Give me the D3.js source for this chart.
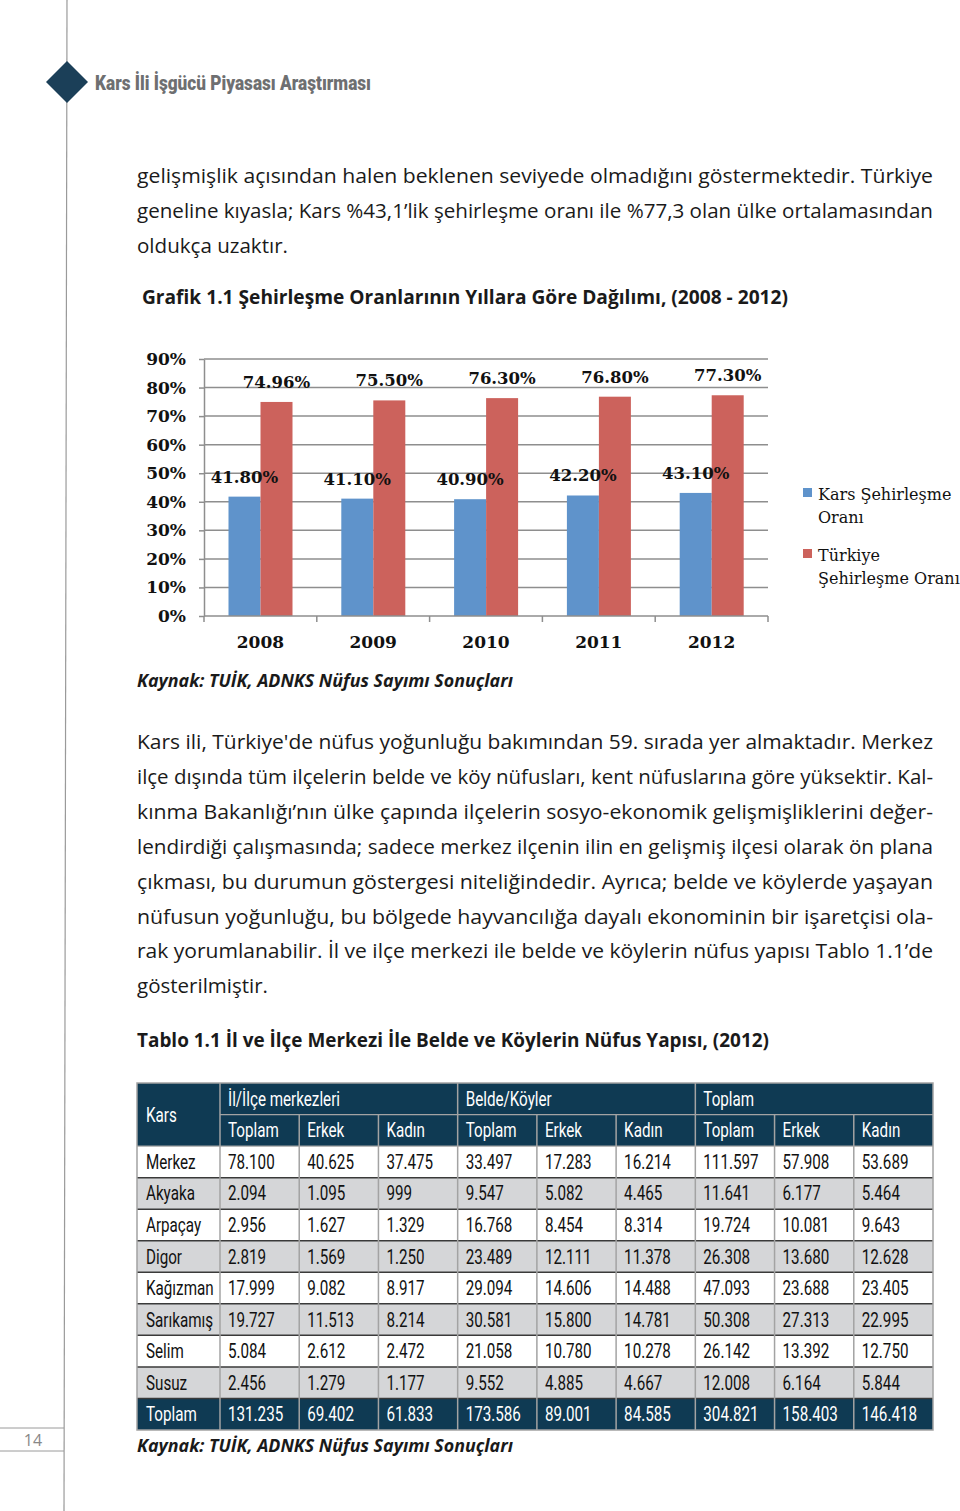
<!DOCTYPE html>
<html>
<head>
<meta charset="utf-8">
<script src="https://cdn.jsdelivr.net/npm/d3@7"></script>
<style>
body { margin: 0; background: #fff; }
svg { display: block; }
</style>
</head>
<body>
<script>
// chart data
var years = ["2008", "2009", "2010", "2011", "2012"];
var seriesNames = ["Kars Şehirleşme Oranı", "Türkiye Şehirleşme Oranı"];
var karsRate = [41.80, 41.10, 40.90, 42.20, 43.10];
var turkeyRate = [74.96, 75.50, 76.30, 76.80, 77.30];
var yTicks = [0, 10, 20, 30, 40, 50, 60, 70, 80, 90];

// table data
var groupHeads = ["İl/İlçe merkezleri", "Belde/Köyler", "Toplam"];
var subHeads = ["Toplam", "Erkek", "Kadın"];
var districts = ["Merkez", "Akyaka", "Arpaçay", "Digor", "Kağızman", "Sarıkamış", "Selim", "Susuz", "Toplam"];
var centerTotal = ["78.100", "2.094", "2.956", "2.819", "17.999", "19.727", "5.084", "2.456", "131.235"];
var centerMale = ["40.625", "1.095", "1.627", "1.569", "9.082", "11.513", "2.612", "1.279", "69.402"];
var centerFemale = ["37.475", "999", "1.329", "1.250", "8.917", "8.214", "2.472", "1.177", "61.833"];
var villageTotal = ["33.497", "9.547", "16.768", "23.489", "29.094", "30.581", "21.058", "9.552", "173.586"];
var villageMale = ["17.283", "5.082", "8.454", "12.111", "14.606", "15.800", "10.780", "4.885", "89.001"];
var villageFemale = ["16.214", "4.465", "8.314", "11.378", "14.488", "14.781", "10.278", "4.667", "84.585"];
var allTotal = ["111.597", "11.641", "19.724", "26.308", "47.093", "50.308", "26.142", "12.008", "304.821"];
var allMale = ["57.908", "6.177", "10.081", "13.680", "23.688", "27.313", "13.392", "6.164", "158.403"];
var allFemale = ["53.689", "5.464", "9.643", "12.628", "23.405", "22.995", "12.750", "5.844", "146.418"];

var width = 960, height = 1511;
var navy = "#0f3a53";
var blue = "#5f93cb", red = "#cc625c";

var svg = d3.select("body").append("svg")
    .attr("width", width)
    .attr("height", height);

// ---- page decoration
svg.append("line")
    .attr("x1", 67).attr("y1", 0).attr("x2", 64).attr("y2", height)
    .attr("stroke", "#9a9a9a").attr("stroke-width", 1.2);

svg.append("path")
    .attr("d", "M67,61 L88,82 L67,103 L46,82 Z")
    .attr("fill", "#1b3f58");

svg.append("text")
    .attr("x", 95).attr("y", 90)
    .attr("textLength", 276).attr("lengthAdjust", "spacingAndGlyphs")
    .style("font-family", "'Roboto', sans-serif")
    .style("font-weight", "900")
    .style("font-size", "21px")
    .attr("fill", "#6e6f71")
    .text("Kars İli İşgücü Piyasası Araştırması");

// page number box
[1428, 1451].forEach(function(yy) {
  svg.append("line").attr("x1", 0).attr("x2", 64).attr("y1", yy).attr("y2", yy)
      .attr("stroke", "#9a9a9a").attr("stroke-width", 1);
});
svg.append("text")
    .attr("x", 33).attr("y", 1446)
    .attr("text-anchor", "middle")
    .style("font-family", "'Open Sans', sans-serif")
    .style("font-size", "16px")
    .attr("fill", "#888")
    .text("14");

// ---- body text
function textLine(str, x, y, len, opts) {
  opts = opts || {};
  var t = svg.append("text")
      .attr("x", x).attr("y", y)
      .style("font-family", opts.family || "'Open Sans', sans-serif")
      .style("font-size", (opts.size || 19.5) + "px")
      .style("font-weight", opts.weight || "normal")
      .style("font-style", opts.style || "normal")
      .attr("fill", opts.fill || "#1a1a1a")
      .text(str);
  if (len) t.attr("textLength", len).attr("lengthAdjust", "spacingAndGlyphs");
  return t;
}

var para1 = [
  ["gelişmişlik açısından halen beklenen seviyede olmadığını göstermektedir. Türkiye", 796],
  ["geneline kıyasla; Kars %43,1’lik şehirleşme oranı ile %77,3 olan ülke ortalamasından", 796],
  ["oldukça uzaktır.", 151]
];
para1.forEach(function(l, i) { textLine(l[0], 137, 183 + i * 35, l[1]); });

textLine("Grafik 1.1 Şehirleşme Oranlarının Yıllara Göre Dağılımı, (2008 - 2012)", 142, 304, 646,
  {weight: "bold", size: 19});

textLine("Kaynak: TUİK, ADNKS Nüfus Sayımı Sonuçları", 137, 687, 376,
  {weight: "bold", style: "italic", size: 17});

var para2 = [
  ["Kars ili, Türkiye'de nüfus yoğunluğu bakımından 59. sırada yer almaktadır. Merkez", 796],
  ["ilçe dışında tüm ilçelerin belde ve köy nüfusları, kent nüfuslarına göre yüksektir. Kal-", 796],
  ["kınma Bakanlığı’nın ülke çapında ilçelerin sosyo-ekonomik gelişmişliklerini değer-", 796],
  ["lendirdiği çalışmasında; sadece merkez ilçenin ilin en gelişmiş ilçesi olarak ön plana", 796],
  ["çıkması, bu durumun göstergesi niteliğindedir.  Ayrıca; belde ve köylerde yaşayan", 796],
  ["nüfusun yoğunluğu, bu bölgede hayvancılığa dayalı ekonominin bir işaretçisi ola-", 796],
  ["rak yorumlanabilir. İl ve ilçe merkezi ile belde ve köylerin nüfus yapısı Tablo 1.1’de", 796],
  ["gösterilmiştir.", 131]
];
para2.forEach(function(l, i) { textLine(l[0], 137, 749 + i * 34.9, l[1]); });

textLine("Tablo 1.1 İl ve İlçe Merkezi İle Belde ve Köylerin Nüfus Yapısı, (2012)", 137, 1047, 632,
  {weight: "bold", size: 19});

textLine("Kaynak: TUİK, ADNKS Nüfus Sayımı Sonuçları", 137, 1452, 376,
  {weight: "bold", style: "italic", size: 17});

// ---- bar chart
var serif = "'DejaVu Serif', serif";
var x = d3.scaleBand().domain(years).range([204, 768]);
var x1 = d3.scaleBand().domain(seriesNames).range([24.5, 88.5]);
var y = d3.scaleLinear().domain([0, 90]).range([616, 359]);
var color = d3.scaleOrdinal().domain(seriesNames).range([blue, red]);

var chart = svg.append("g");

chart.selectAll(".grid")
    .data(yTicks.filter(function(d) { return d > 0; }))
  .enter().append("line")
    .attr("class", "grid")
    .attr("x1", 204).attr("x2", 768)
    .attr("y1", function(d) { return y(d); })
    .attr("y2", function(d) { return y(d); })
    .attr("stroke", "#8e8e8e").attr("stroke-width", 1.5);

var barData = [];
years.forEach(function(yr, i) {
  barData.push({year: yr, series: seriesNames[0], value: karsRate[i]});
  barData.push({year: yr, series: seriesNames[1], value: turkeyRate[i]});
});

chart.selectAll(".bar")
    .data(barData)
  .enter().append("rect")
    .attr("class", "bar")
    .attr("x", function(d) { return x(d.year) + x1(d.series); })
    .attr("width", x1.bandwidth())
    .attr("y", function(d) { return y(d.value); })
    .attr("height", function(d) { return y(0) - y(d.value); })
    .attr("fill", function(d) { return color(d.series); });

chart.selectAll(".lbl")
    .data(barData)
  .enter().append("text")
    .attr("class", "lbl")
    .attr("x", function(d) { return x(d.year) + x1(d.series) + x1.bandwidth() / 2; })
    .attr("y", function(d) { return y(d.value) - 14; })
    .attr("text-anchor", "middle")
    .style("font-family", serif)
    .style("font-weight", "bold")
    .style("font-size", "16.5px")
    .attr("fill", "#111")
    .text(function(d) { return d.value.toFixed(2) + "%"; });

// y axis
var yAxis = chart.append("g")
    .attr("transform", "translate(204,0)")
    .call(d3.axisLeft(y).tickValues(yTicks)
      .tickFormat(function(d) { return d + "%"; })
      .tickSizeInner(5).tickSizeOuter(0).tickPadding(13));
yAxis.select(".domain").attr("stroke", "#8e8e8e").attr("stroke-width", 1.5);
yAxis.selectAll(".tick line").attr("stroke", "#8e8e8e").attr("stroke-width", 1.5);
yAxis.selectAll(".tick text")
    .style("font-family", serif).style("font-weight", "bold").style("font-size", "17px")
    .attr("fill", "#111");

// x axis
chart.append("line")
    .attr("x1", 204).attr("x2", 768).attr("y1", y(0)).attr("y2", y(0))
    .attr("stroke", "#8e8e8e").attr("stroke-width", 1.5);
var edges = years.map(function(d) { return x(d); }).concat([x.range()[1]]);
chart.selectAll(".xtick")
    .data(edges)
  .enter().append("line")
    .attr("x1", function(d) { return d; }).attr("x2", function(d) { return d; })
    .attr("y1", y(0)).attr("y2", y(0) + 6)
    .attr("stroke", "#8e8e8e").attr("stroke-width", 1.5);
chart.selectAll(".xlbl")
    .data(years)
  .enter().append("text")
    .attr("x", function(d) { return x(d) + x.bandwidth() / 2; })
    .attr("y", 648)
    .attr("text-anchor", "middle")
    .style("font-family", serif).style("font-weight", "bold").style("font-size", "17px")
    .attr("fill", "#111")
    .text(function(d) { return d; });

// legend
var legendLines = [["Kars Şehirleşme", "Oranı"], ["Türkiye", "Şehirleşme Oranı"]];
var legend = chart.selectAll(".legend")
    .data(seriesNames)
  .enter().append("g")
    .attr("transform", function(d, i) { return "translate(803," + (488 + i * 61) + ")"; });
legend.append("rect").attr("width", 9).attr("height", 9)
    .attr("fill", function(d) { return color(d); });
legend.each(function(d, i) {
  var g = d3.select(this);
  legendLines[i].forEach(function(s, j) {
    g.append("text")
        .attr("x", 15).attr("y", 12 + j * 23)
        .style("font-family", serif).style("font-size", "16px")
        .attr("fill", "#111")
        .text(s);
  });
});

// ---- table
var tblLeft = 137, tblRight = 933, firstColRight = 220;
var tblTop = 1083, tblBottom = 1430;
var columns = [centerTotal, centerMale, centerFemale, villageTotal, villageMale, villageFemale, allTotal, allMale, allFemale];
var colX = d3.scaleBand().domain(d3.range(columns.length)).range([firstColRight, tblRight]);
var rowY = d3.scaleBand().domain(d3.range(districts.length + 2)).range([tblTop, tblBottom]);
var rh = rowY.bandwidth();

var table = svg.append("g");

// header background
table.append("rect")
    .attr("x", tblLeft).attr("y", tblTop)
    .attr("width", tblRight - tblLeft).attr("height", rh * 2)
    .attr("fill", navy);

// data rows
var rows = table.selectAll(".row")
    .data(districts)
  .enter().append("g")
    .attr("class", "row")
    .attr("transform", function(d, i) { return "translate(0," + rowY(i + 2) + ")"; });

rows.append("rect")
    .attr("x", tblLeft).attr("width", tblRight - tblLeft).attr("height", rh)
    .attr("fill", function(d, i) {
      if (i === districts.length - 1) return navy;
      return i % 2 === 1 ? "#d5d6d8" : "#ffffff";
    });

// condensed look: Roboto squeezed horizontally
function cellText(sel, tx, ty, str, fill) {
  sel.append("text")
      .attr("transform", "translate(" + tx + "," + ty + ") scale(0.78,1)")
      .style("font-family", "'Roboto', sans-serif")
      .style("font-size", "19.5px")
      .attr("fill", fill)
      .text(str);
}

rows.each(function(d, i) {
  var g = d3.select(this);
  var fill = i === districts.length - 1 ? "#ffffff" : "#111";
  cellText(g, tblLeft + 9, rh / 2 + 7, d, fill);
  columns.forEach(function(col, c) {
    cellText(g, colX(c) + 8, rh / 2 + 7, col[i], fill);
  });
});

// horizontal separators between data rows
table.selectAll(".hsep")
    .data(d3.range(3, districts.length + 2))
  .enter().append("line")
    .attr("x1", tblLeft).attr("x2", tblRight)
    .attr("y1", function(d) { return rowY(d); })
    .attr("y2", function(d) { return rowY(d); })
    .attr("stroke", "#3a3a3a").attr("stroke-width", 1.5);

// vertical separators
table.selectAll(".vsep")
    .data(d3.range(columns.length))
  .enter().append("line")
    .attr("x1", function(d) { return colX(d); })
    .attr("x2", function(d) { return colX(d); })
    .attr("y1", function(d) { return d % 3 === 0 ? tblTop : rowY(1); })
    .attr("y2", tblBottom)
    .attr("stroke", "#a3a3a3").attr("stroke-width", 1.5);

// header lines
table.append("line")
    .attr("x1", firstColRight).attr("x2", tblRight)
    .attr("y1", rowY(1)).attr("y2", rowY(1))
    .attr("stroke", "#a3a3a3").attr("stroke-width", 1.2);
table.append("line")
    .attr("x1", tblLeft).attr("x2", tblRight)
    .attr("y1", rowY(2)).attr("y2", rowY(2))
    .attr("stroke", "#a3a3a3").attr("stroke-width", 1.2);

// outer border
table.append("rect")
    .attr("x", tblLeft).attr("y", tblTop)
    .attr("width", tblRight - tblLeft).attr("height", tblBottom - tblTop)
    .attr("fill", "none").attr("stroke", "#a3a3a3").attr("stroke-width", 1.5);

// header text
cellText(table, tblLeft + 9, tblTop + rh + 7, "Kars", "#fff");
groupHeads.forEach(function(h, k) {
  cellText(table, colX(k * 3) + 8, tblTop + rh / 2 + 7, h, "#fff");
});
d3.range(columns.length).forEach(function(c) {
  cellText(table, colX(c) + 8, rowY(1) + rh / 2 + 7, subHeads[c % 3], "#fff");
});
</script>
</body>
</html>
